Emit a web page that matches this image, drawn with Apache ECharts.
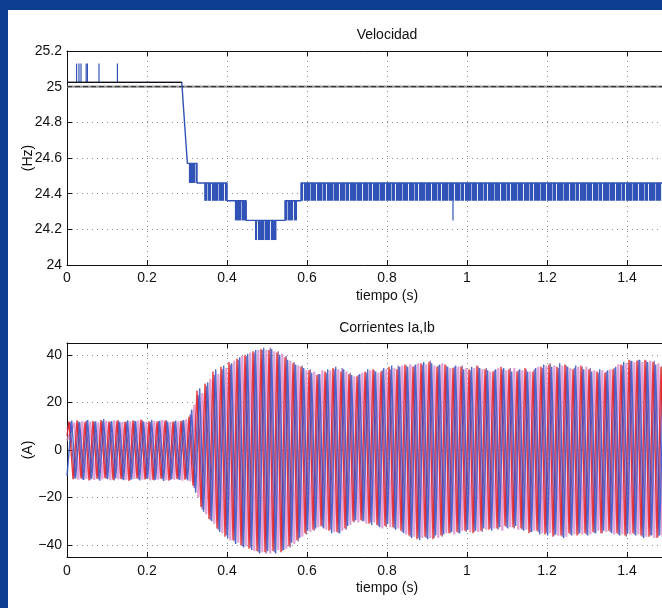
<!DOCTYPE html>
<html>
<head>
<meta charset="utf-8">
<script src="https://cdn.jsdelivr.net/npm/echarts@6/dist/echarts.min.js"></script>
<style>
  html, body { margin: 0; padding: 0; width: 662px; height: 608px; background: #0c3f8f; overflow: hidden; }
  #chart { position: absolute; left: 8px; top: 10px; width: 654px; height: 598px; background: #ffffff; }
</style>
</head>
<body>
<div id="chart"></div>
<script>
// ---------- Velocidad (Hz) ----------
const timeTicks = [0, 0.2, 0.4, 0.6, 0.8, 1, 1.2, 1.4, 1.6];
const speedTicks = [24, 24.2, 24.4, 24.6, 24.8, 25, 25.2];
// reference speed
const refT = [0, 1.6];
const refV = [25, 25];
// black initial trace
const blackT = [0, 0.287];
const blackV = [25.024, 25.024];
// main blue step path
const pathT = [0, 0.287, 0.291, 0.2975, 0.301, 0.325, 0.325, 0.400, 0.400, 0.448, 0.448, 0.525, 0.545, 0.545, 0.585, 0.585, 1.6];
const pathV = [25.024, 25.024, 24.89, 24.68, 24.57, 24.57, 24.46, 24.46, 24.36, 24.36, 24.25, 24.25, 24.25, 24.36, 24.36, 24.46, 24.46];
// dense toggling regions: start, end, low, high
const bandStart = [0.303, 0.343, 0.418, 0.470, 0.545, 0.585];
const bandEnd   = [0.325, 0.400, 0.448, 0.525, 0.575, 1.600];
const bandLow   = [24.46, 24.36, 24.25, 24.14, 24.25, 24.36];
const bandHigh  = [24.57, 24.46, 24.36, 24.25, 24.36, 24.46];
// isolated spikes
const spikeT    = [0.024, 0.030, 0.035, 0.048, 0.051, 0.080, 0.126, 0.965];
const spikeFrom = [25.024, 25.024, 25.024, 25.024, 25.024, 25.024, 25.024, 24.36];
const spikeTo   = [25.13, 25.13, 25.13, 25.13, 25.13, 25.13, 25.13, 24.25];

// ---------- Corrientes Ia, Ib (A) : per-cycle positive / negative peaks ----------
const currentTicks = [-40, -20, 0, 20, 40];
const halfPeriod = 0.01;
const iaFirstPeak = 0.005, ibFirstPeak = 0.0117, icFirstPeak = 0.0183, idFirstPeak = 0.008;
const iaStart = 6, ibStart = -11, icStart = 4, idStart = 9;
const iaPos = [12, 12.5, 11.8, 12.2, 12.6, 12, 12.3, 11.9, 12.4, 12.8,
  12.1, 11.9, 12.3, 12, 12.2, 14, 25, 28, 33, 35,
  37, 38.5, 40, 41.5, 42.5, 42, 41, 39, 36.5, 35,
  33.5, 31.5, 33, 34.5, 33, 32, 31, 33, 34, 33,
  35, 34, 36, 35, 36.5, 37, 35, 36, 34.5, 35,
  34, 35.5, 34, 33, 35, 34, 33, 34.5, 33, 35,
  36, 35, 36, 34, 35.5, 34, 33, 32.5, 34, 36,
  38, 37.5, 38, 37, 35, 36, 35, 36, 34, 35];
const iaNeg = [-12.3, -12, -12.8, -12.1, -11.9, -12.5, -12.2, -13, -12, -12.4,
  -12.6, -12.1, -12.9, -12.2, -12.5, -15, -24, -29, -33, -36.5,
  -38, -40, -41.5, -42.5, -43, -42.5, -43, -40.5, -38, -35,
  -33.5, -32, -34, -34.5, -33, -30, -29.5, -31, -31.5, -32,
  -32.5, -34, -36, -37.5, -36.5, -37.5, -36, -35, -34.5, -34,
  -35, -34, -33.5, -33, -32, -32.5, -33, -35, -34, -35.5,
  -36.5, -36, -35, -36, -35, -34.5, -35, -34, -35, -36,
  -35, -36, -36.5, -37, -36, -35, -36, -35, -34, -35];
const ibPos = [12.4, 11.8, 12.6, 12.1, 13, 12.2, 11.9, 12.5, 12.2, 12,
  12.7, 12.3, 12, 12.4, 12.6, 17, 26, 28.5, 34, 35.5,
  36.5, 39, 40.5, 42, 43, 42.5, 40, 38, 36, 34.5,
  32.5, 32, 34, 35, 34, 31.5, 32, 34, 33, 34.5,
  35.5, 35, 35, 36, 37, 36.5, 36, 35, 35.5, 34,
  35, 34.5, 33.5, 34, 34.5, 33, 34, 33, 34.5, 36,
  35, 36.5, 35, 35.5, 34, 33, 34, 33.5, 35, 37,
  37.5, 38, 37, 36, 36.5, 35, 34.5, 36, 35, 34];
const ibNeg = [-12, -12.6, -12.2, -12.9, -12.3, -12, -12.7, -12.4, -12.8, -12.1,
  -12.5, -13, -12.3, -12.6, -12.8, -18, -26, -30, -34.5, -37,
  -39.5, -41, -42, -43.5, -42.5, -43.5, -42, -39, -37, -34,
  -33, -33, -35, -35, -32, -29.5, -30, -31.5, -32.5, -31,
  -33.5, -35, -37, -38, -37.5, -36, -35.5, -34.5, -35, -33.5,
  -34, -33, -34, -32.5, -33, -32, -34, -34.5, -35.5, -36,
  -35.5, -37, -36, -35, -36, -35, -34, -35, -36, -35,
  -36, -37, -36, -36, -37, -36, -35, -34.5, -35, -36];
// lighter (pink) trace
const icPos = [11.5, 12.2, 12.0, 11.6, 12.3, 12.5, 11.8, 12.1, 12.4, 11.9,
  12.2, 12.6, 11.7, 12.1, 12.9, 19, 24, 30, 32, 34.5,
  37.5, 39.5, 41, 42, 42, 41.5, 40.5, 37.5, 35.5, 33.5,
  33, 33.5, 33.5, 34, 33, 31, 32.5, 33.5, 32.5, 34,
  34.5, 35.5, 36, 36.5, 36, 35.5, 36.5, 34.5, 35, 34.5,
  34.5, 34, 33, 34.5, 33.5, 34.5, 33.5, 33, 35, 35.5,
  35.5, 35.5, 34.5, 35, 35, 33.5, 33.5, 34, 36, 36.5,
  37, 37, 37.5, 36.5, 35.5, 35.5, 35, 35, 35.5, 34.5];
const icNeg = [-12.5, -12.2, -12.6, -12.4, -12.7, -12.3, -12.6, -12.2, -12.5, -12.8,
  -12.4, -12.7, -12.5, -12.9, -13.2, -20, -27, -31, -35, -38,
  -39, -40.5, -42.5, -43, -43.5, -42, -41.5, -39.5, -36.5, -34.5,
  -32.5, -33.5, -34.5, -34, -31.5, -30.5, -31, -30.5, -33, -32.5,
  -33, -35.5, -36.5, -37, -37, -37, -35, -35.5, -34, -34.5,
  -34.5, -33.5, -33, -34, -32.5, -33.5, -33.5, -34, -35, -35,
  -36, -36.5, -35.5, -35.5, -35.5, -34, -34.5, -35.5, -35.5, -35.5,
  -35.5, -36.5, -37, -36.5, -36.5, -35.5, -35.5, -35, -34.5, -35.5];
// darker (purple) trace
const idPos = [11.8, 12.1, 12.4, 12.0, 12.2, 11.9, 12.6, 12.0, 12.3, 12.5,
  11.8, 12.2, 12.6, 12.0, 12.4, 15, 23, 27, 31.5, 34,
  36, 38, 39.5, 41, 42, 43, 41.5, 39.5, 37, 35.5,
  34, 32, 32.5, 34, 34.5, 32.5, 31.5, 32.5, 33.5, 33.5,
  34, 35.5, 35.5, 35.5, 36, 37.5, 35.5, 35.5, 35, 35.5,
  33.5, 35, 34.5, 33.5, 34, 34.5, 33.5, 34, 34, 34.5,
  36.5, 34.5, 35.5, 34.5, 35, 34.5, 32.5, 33, 34.5, 35.5,
  37.5, 38, 37.5, 37.5, 35.5, 36, 35.5, 35.5, 34.5, 35.5];
const idNeg = [-12.1, -12.4, -12.5, -12.3, -12.1, -12.8, -12.4, -12.6, -12.3, -12.2,
  -12.8, -12.3, -12.6, -12.4, -12.2, -16, -25, -29.5, -33.5, -36,
  -38.5, -40.5, -41, -43, -43.5, -43, -42.5, -41, -38.5, -35.5,
  -34, -32.5, -33.5, -35, -33.5, -30.5, -30, -30.5, -32, -32.5,
  -33, -34.5, -36.5, -37, -37, -37, -36.5, -35, -35, -34.5,
  -34.5, -34.5, -33, -33.5, -32.5, -33, -33.5, -34.5, -34.5, -35,
  -36, -36.5, -35.5, -35.5, -35.5, -35, -35, -34.5, -35.5, -36.5,
  -35.5, -36.5, -36, -36.5, -36.5, -35.5, -35.5, -35.5, -34.5, -35];

// ---------- build data ----------
const zip = (a, b) => a.map((v, i) => [v, b[i]]);
function peaks(start, first, pos, neg) {
  const out = [[0, start]];
  pos.forEach((p, k) => {
    out.push([first + 2 * k * halfPeriod, p]);
    out.push([first + (2 * k + 1) * halfPeriod, neg[k]]);
  });
  return out;
}
const bandData = bandStart.map((s, i) => [s, bandEnd[i], bandLow[i], bandHigh[i]]);
const spikeData = spikeT.map((t, i) => [t, spikeFrom[i], spikeTo[i]]);

const FONT = 'Liberation Sans, Arial, Helvetica, sans-serif';
const TXT = '#111';
const BLUE = '#3152b6';
const minus = v => (v < 0 ? '\u2212' + Math.abs(v) : String(v));

// striped fill imitating the dense switching lines of the speed trace (style only)
const stripeCanvas = document.createElement('canvas');
stripeCanvas.width = 23; stripeCanvas.height = 4;
(function () {
  const c = stripeCanvas.getContext('2d');
  c.fillStyle = BLUE; c.fillRect(0, 0, 23, 4);
  c.fillStyle = '#9fb0de'; c.fillRect(3, 0, 1, 4); c.fillRect(15, 0, 1, 4);
  c.fillStyle = '#e4e9f6'; c.fillRect(9, 0, 1, 4); c.fillRect(19, 0, 1, 4);
})();
const stripeFill = { image: stripeCanvas, repeat: 'repeat' };

function clipRect(r, cs) {
  return echarts.graphic.clipRectByRect(r, { x: cs.x, y: cs.y, width: cs.width, height: cs.height });
}

const gridLine = { show: true, lineStyle: { color: '#8a8a8a', width: 1, type: [1, 4] } };
const axisLine = { show: true, onZero: false, lineStyle: { color: TXT, width: 1 } };
const tickStyle = { show: true, inside: true, length: 5, lineStyle: { color: TXT, width: 1 } };

function xAxisBottom(gridIndex, labelMargin) {
  return {
    type: 'value', gridIndex, position: 'bottom', min: 0, max: 1.6, interval: 0.2,
    axisLine, axisTick: tickStyle, splitLine: gridLine,
    axisLabel: { color: TXT, fontSize: 14, fontFamily: FONT, margin: labelMargin },
    name: 'tiempo (s)', nameLocation: 'middle', nameGap: 24, nameMoveOverlap: false,
    nameTextStyle: { color: TXT, fontSize: 14, fontFamily: FONT }
  };
}
function xAxisTop(gridIndex) {
  return {
    type: 'value', gridIndex, position: 'top', min: 0, max: 1.6, interval: 0.2,
    axisLine, axisTick: tickStyle, splitLine: { show: false }, axisLabel: { show: false }
  };
}
function currentSeries(name, start, first, pos, neg, color, width, opacity, z) {
  return { name, type: 'line', xAxisIndex: 2, yAxisIndex: 1, data: peaks(start, first, pos, neg), symbol: 'none',
    lineStyle: { color, width, opacity }, sampling: null, clip: true, z };
}

const chart = echarts.init(document.getElementById('chart'), null, { renderer: 'canvas' });
chart.setOption({
  animation: false,
  backgroundColor: '#ffffff',
  graphic: [
    { type: 'text', x: 379, y: 25, style: { text: 'Velocidad', font: '14px ' + FONT, fill: TXT, textAlign: 'center', textVerticalAlign: 'middle' } },
    { type: 'text', x: 379, y: 318, style: { text: 'Corrientes Ia,Ib', font: '14px ' + FONT, fill: TXT, textAlign: 'center', textVerticalAlign: 'middle' } }
  ],
  grid: [
    { left: 59, top: 41, height: 214, width: 640, outerBoundsMode: 'none', containLabel: false },
    { left: 59, top: 333, height: 214, width: 640, outerBoundsMode: 'none', containLabel: false }
  ],
  xAxis: [xAxisBottom(0, 6), xAxisTop(0), xAxisBottom(1, 7), xAxisTop(1)],
  yAxis: [
    {
      type: 'value', gridIndex: 0, min: 24, max: 25.2, interval: 0.2,
      axisLine, axisTick: tickStyle, splitLine: gridLine,
      axisLabel: { color: TXT, fontSize: 14, fontFamily: FONT, margin: 5 },
      name: '(Hz)', nameLocation: 'middle', nameGap: 32, nameMoveOverlap: false,
      nameTextStyle: { color: TXT, fontSize: 14, fontFamily: FONT }
    },
    {
      type: 'value', gridIndex: 1, min: -45, max: 45,
      axisLine, splitLine: gridLine,
      axisTick: Object.assign({}, tickStyle, { customValues: currentTicks }),
      axisLabel: { color: TXT, fontSize: 14, fontFamily: FONT, margin: 5, customValues: currentTicks, formatter: minus },
      name: '(A)', nameLocation: 'middle', nameGap: 32, nameMoveOverlap: false,
      nameTextStyle: { color: TXT, fontSize: 14, fontFamily: FONT }
    }
  ],
  series: [
    { name: 'ref', type: 'line', xAxisIndex: 0, yAxisIndex: 0, data: zip(refT, refV), symbol: 'none',
      lineStyle: { color: '#9a9a9a', width: 2.2 }, silent: true, z: 2 },
    { name: 'ref2', type: 'line', xAxisIndex: 0, yAxisIndex: 0, data: zip(refT, refV), symbol: 'none',
      lineStyle: { color: '#222', width: 1, type: [5, 3] }, silent: true, z: 3 },
    { name: 'bandas', type: 'custom', xAxisIndex: 0, yAxisIndex: 0, data: bandData,
      encode: { x: [0, 1], y: [2, 3] }, z: 4,
      renderItem: (params, api) => {
        const p1 = api.coord([api.value(0), api.value(3)]);
        const p2 = api.coord([api.value(1), api.value(2)]);
        const r = clipRect({ x: p1[0], y: p1[1], width: p2[0] - p1[0], height: p2[1] - p1[1] }, params.coordSys);
        return r && { type: 'rect', shape: r, style: { fill: stripeFill } };
      } },
    { name: 'picos', type: 'custom', xAxisIndex: 0, yAxisIndex: 0, data: spikeData,
      encode: { x: 0, y: [1, 2] }, z: 4,
      renderItem: (params, api) => {
        const a = api.coord([api.value(0), api.value(1)]);
        const b = api.coord([api.value(0), api.value(2)]);
        return { type: 'line', shape: { x1: a[0], y1: a[1], x2: b[0], y2: b[1] }, style: { stroke: BLUE, lineWidth: 1.2 } };
      } },
    { name: 'Velocidad', type: 'line', xAxisIndex: 0, yAxisIndex: 0, data: zip(pathT, pathV), symbol: 'none',
      lineStyle: { color: BLUE, width: 1.4 }, z: 5 },
    { name: 'inicial', type: 'line', xAxisIndex: 0, yAxisIndex: 0, data: zip(blackT, blackV), symbol: 'none',
      lineStyle: { color: '#111', width: 1.4 }, z: 6 },
    currentSeries('Ic', icStart, icFirstPeak, icPos, icNeg, '#de86c6', 2.2, 0.75, 2),
    currentSeries('Id', idStart, idFirstPeak, idPos, idNeg, '#6a3592', 1.1, 0.85, 3),
    currentSeries('Ia', iaStart, iaFirstPeak, iaPos, iaNeg, '#e2262c', 1.4, 0.9, 4),
    currentSeries('Ib', ibStart, ibFirstPeak, ibPos, ibNeg, '#3553c4', 1.4, 0.85, 5)
  ]
});
</script>
</body>
</html>
